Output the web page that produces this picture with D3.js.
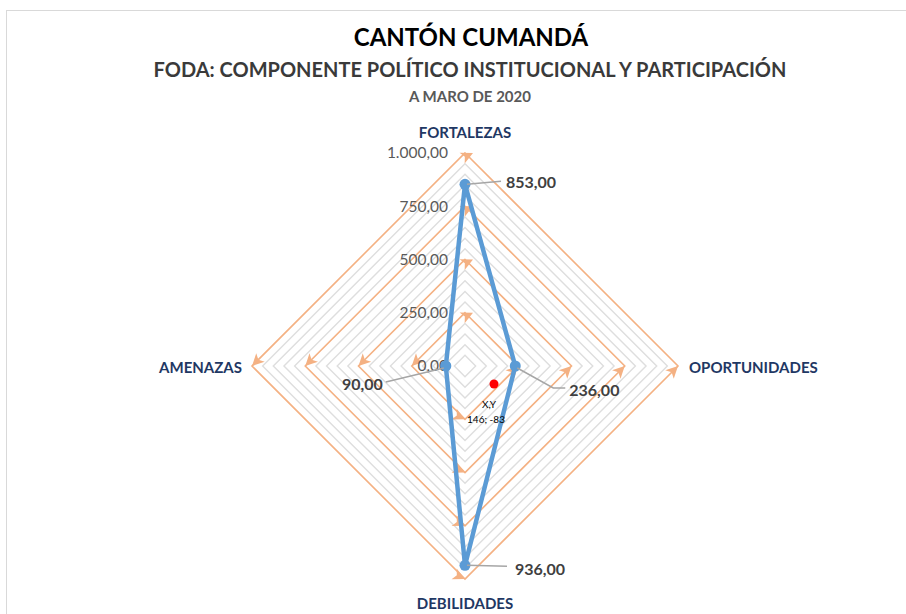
<!DOCTYPE html>
<html>
<head>
<meta charset="utf-8">
<script src="https://cdn.jsdelivr.net/npm/d3@7"></script>
<style>
  body { margin: 0; background: #fff; }
  svg { font-family: Lato, "Open Sans", sans-serif; }
</style>
</head>
<body>
<svg width="906" height="614"></svg>
<script>
var categories = ["FORTALEZAS", "OPORTUNIDADES", "DEBILIDADES", "AMENAZAS"];
var values = [853, 236, 936, 90];
var valueLabels = ["853,00", "236,00", "936,00", "90,00"];
var majorTicks = [0, 250, 500, 750, 1000];
var tickLabels = ["0,00", "250,00", "500,00", "750,00", "1.000,00"];
var minorTicks = d3.range(50, 1001, 50);

var svg = d3.select("svg"),
    cx = 465, cy = 366;

var r = d3.scaleLinear().domain([0, 1000]).range([0, 213]);
var angle = d3.scaleOrdinal().domain(categories)
    .range([-Math.PI / 2, 0, Math.PI / 2, Math.PI]);

function pt(cat, v) {
  var a = angle(cat);
  return [cx + r(v) * Math.cos(a), cy + r(v) * Math.sin(a)];
}

// chart frame
svg.append("rect")
    .attr("x", 6.5).attr("y", 10.5)
    .attr("width", 920).attr("height", 620)
    .attr("fill", "none").attr("stroke", "#d9d9d9");

// titles
svg.append("text").attr("x", 471).attr("y", 46)
    .attr("text-anchor", "middle").attr("font-size", 24).attr("font-weight", "bold")
    .attr("fill", "#000").text("CANTÓN CUMANDÁ");
svg.append("text").attr("x", 470).attr("y", 77)
    .attr("text-anchor", "middle").attr("font-size", 20).attr("font-weight", "bold")
    .attr("fill", "#3a3a3a").text("FODA: COMPONENTE POLÍTICO INSTITUCIONAL Y PARTICIPACIÓN");
svg.append("text").attr("x", 470).attr("y", 102)
    .attr("text-anchor", "middle").attr("font-size", 15).attr("font-weight", "bold")
    .attr("fill", "#595959").text("A MARO DE 2020");

var line = d3.line();

// minor grid rings
svg.append("g").selectAll("path")
  .data(minorTicks.filter(function(d) { return d % 250 !== 0; }))
  .enter().append("path")
    .attr("d", function(v) {
      return line(categories.map(function(c) { return pt(c, v); })) + "Z";
    })
    .attr("fill", "none")
    .attr("stroke", "#dedede")
    .attr("stroke-width", 1.4);

// major grid rings
var major = svg.append("g");
major.selectAll("path")
  .data(majorTicks.slice(1))
  .enter().append("path")
    .attr("d", function(v) {
      return line(categories.map(function(c) { return pt(c, v); })) + "Z";
    })
    .attr("fill", "none")
    .attr("stroke", "#f4b183")
    .attr("stroke-width", 1.6);

// arrowheads at ring vertices
var arrowDir = {FORTALEZAS: -25, OPORTUNIDADES: -45, DEBILIDADES: 25, AMENAZAS: 135};
majorTicks.slice(1).forEach(function(v) {
  categories.forEach(function(c) {
    var p = pt(c, v);
    var dx = c === "FORTALEZAS" ? 8 : 0;
    major.append("path")
        .attr("d", "M0,0L-12,-6L-9,0L-12,6Z")
        .attr("transform", "translate(" + (p[0] + dx) + "," + p[1] + ") rotate(" + arrowDir[c] + ")")
        .attr("fill", "#f4b183");
  });
});

// tick labels
svg.append("g").selectAll("text")
  .data(majorTicks)
  .enter().append("text")
    .attr("x", 448)
    .attr("y", function(v) { return cy - r(v); })
    .attr("dy", "0.35em")
    .attr("text-anchor", "end")
    .attr("font-size", 15.5)
    .attr("fill", "#595959")
    .text(function(v, i) { return tickLabels[i]; });

// category labels
var catPos = {
  FORTALEZAS: [465, 133, "middle"],
  OPORTUNIDADES: [689, 368, "start"],
  DEBILIDADES: [465, 604, "middle"],
  AMENAZAS: [242, 368, "end"]
};
svg.append("g").selectAll("text")
  .data(categories)
  .enter().append("text")
    .attr("x", function(c) { return catPos[c][0]; })
    .attr("y", function(c) { return catPos[c][1]; })
    .attr("dy", "0.35em")
    .attr("text-anchor", function(c) { return catPos[c][2]; })
    .attr("font-size", 15)
    .attr("font-weight", "bold")
    .attr("fill", "#1f3864")
    .text(function(c) { return c; });

// data series
var pts = categories.map(function(c, i) { return pt(c, values[i]); });
svg.append("path")
    .attr("d", line(pts) + "Z")
    .attr("fill", "none")
    .attr("stroke", "#5b9bd5")
    .attr("stroke-width", 4.5)
    .attr("stroke-linejoin", "round");

svg.append("g").selectAll("circle")
  .data(pts)
  .enter().append("circle")
    .attr("cx", function(d) { return d[0]; })
    .attr("cy", function(d) { return d[1]; })
    .attr("r", 5.5)
    .attr("fill", "#5b9bd5");

// data labels with leader lines (offsets from point)
var labelOff = [
  {lead: [[2, 0], [36, -3]], tx: 41, ty: -2, anchor: "start"},
  {lead: [[2, 2], [38, 22], [50, 22]], tx: 54, ty: 24, anchor: "start"},
  {lead: [[2, 0], [42, 1]], tx: 50, ty: 4, anchor: "start"},
  {lead: [[-2, 2], [-60, 16]], tx: -63, ty: 18, anchor: "end"}
];
var labels = svg.append("g");
pts.forEach(function(p, i) {
  var o = labelOff[i];
  labels.append("path")
      .attr("d", line(o.lead.map(function(q) { return [p[0] + q[0], p[1] + q[1]]; })))
      .attr("fill", "none")
      .attr("stroke", "#a6a6a6")
      .attr("stroke-width", 1.5);
  labels.append("text")
      .attr("x", p[0] + o.tx)
      .attr("y", p[1] + o.ty)
      .attr("dy", "0.35em")
      .attr("text-anchor", o.anchor)
      .attr("font-size", 16)
      .attr("font-weight", "bold")
      .attr("fill", "#404040")
      .text(valueLabels[i]);
});

// cursor marker seen in the capture
svg.append("circle").attr("cx", 494).attr("cy", 384).attr("r", 4.5).attr("fill", "#ff0000");
svg.append("text").attr("x", 489).attr("y", 408).attr("text-anchor", "middle")
    .attr("font-size", 10).attr("fill", "#000").text("X,Y");
svg.append("text").attr("x", 486).attr("y", 423).attr("text-anchor", "middle")
    .attr("font-size", 10).attr("fill", "#000").text("146; -83");
</script>
</body>
</html>
